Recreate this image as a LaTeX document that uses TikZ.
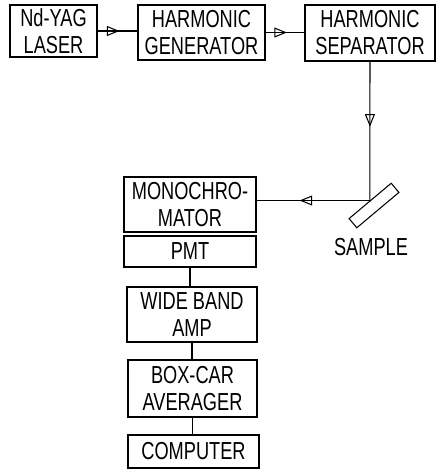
\documentclass[tikz,border=0pt]{standalone}
\usepackage{fontspec}
\setmainfont[FakeStretch=0.74]{Liberation Sans}
\usetikzlibrary{arrows.meta,decorations.markings}

\begin{document}
\begin{tikzpicture}[x=0.03cm, y=-0.03cm, line width=0.9pt,
    every node/.style={font=\fontsize{21}{23}\selectfont, align=center, inner sep=0pt},
    box/.style={draw, rectangle},
    beam/.style={postaction={decorate}, decoration={markings,
        mark=at position #1 with {\arrow{Triangle[open, length=3.8mm, width=3mm, line width=0.9pt]}}}}]
    \path[use as bounding box] (0,0) rectangle (439,471);
    \node[box, minimum width=2.61cm, minimum height=1.56cm] (laser) at (53.5,31) {Nd-YAG\\LASER};
    \node[box, minimum width=3.81cm, minimum height=1.65cm] (gen) at (201.5,32.5) {HARMONIC\\GENERATOR};
    \node[box, minimum width=3.9cm, minimum height=1.68cm] (sep) at (370,33) {HARMONIC\\SEPARATOR};

    % sample mirror, beam hits its upper face
    \node[draw, rectangle, rotate=40, minimum width=1.65cm, minimum height=0.36cm] (sample) at (374,205.5) {};
    \node (samplelabel) at (371,247) {SAMPLE};

    \node[box, minimum width=3.96cm, minimum height=1.65cm] (mono) at (190,204.5) {MONOCHRO-\\MATOR};
    \node[box, minimum width=3.96cm, minimum height=0.93cm] (pmt) at (190,251.5) {PMT};
    \node[box, minimum width=3.9cm, minimum height=1.65cm] (amp) at (192,314.5) {WIDE BAND\\AMP};
    \node[box, minimum width=3.87cm, minimum height=1.71cm] (boxcar) at (192.5,388.5) {BOX-CAR\\AVERAGER};
    \node[box, minimum width=3.93cm, minimum height=0.99cm] (computer) at (193.5,451.5) {COMPUTER};

    % light path
    \draw[beam=0.55] (laser.east) -- (laser.east -| gen.west);
    \draw[beam=0.55] (gen.east) -- (gen.east -| sep.west);
    \draw[beam=0.47] (sep.south) -- (sample.north);
    \draw[beam=0.62] (sample.north) -- (sample.north -| mono.east);

    % signal chain
    \draw (pmt.south) -- (pmt.south |- amp.north);
    \draw (amp.south) -- (amp.south |- boxcar.north);
    \draw (boxcar.south) -- (boxcar.south |- computer.north);

    \end{tikzpicture}
\end{document}
